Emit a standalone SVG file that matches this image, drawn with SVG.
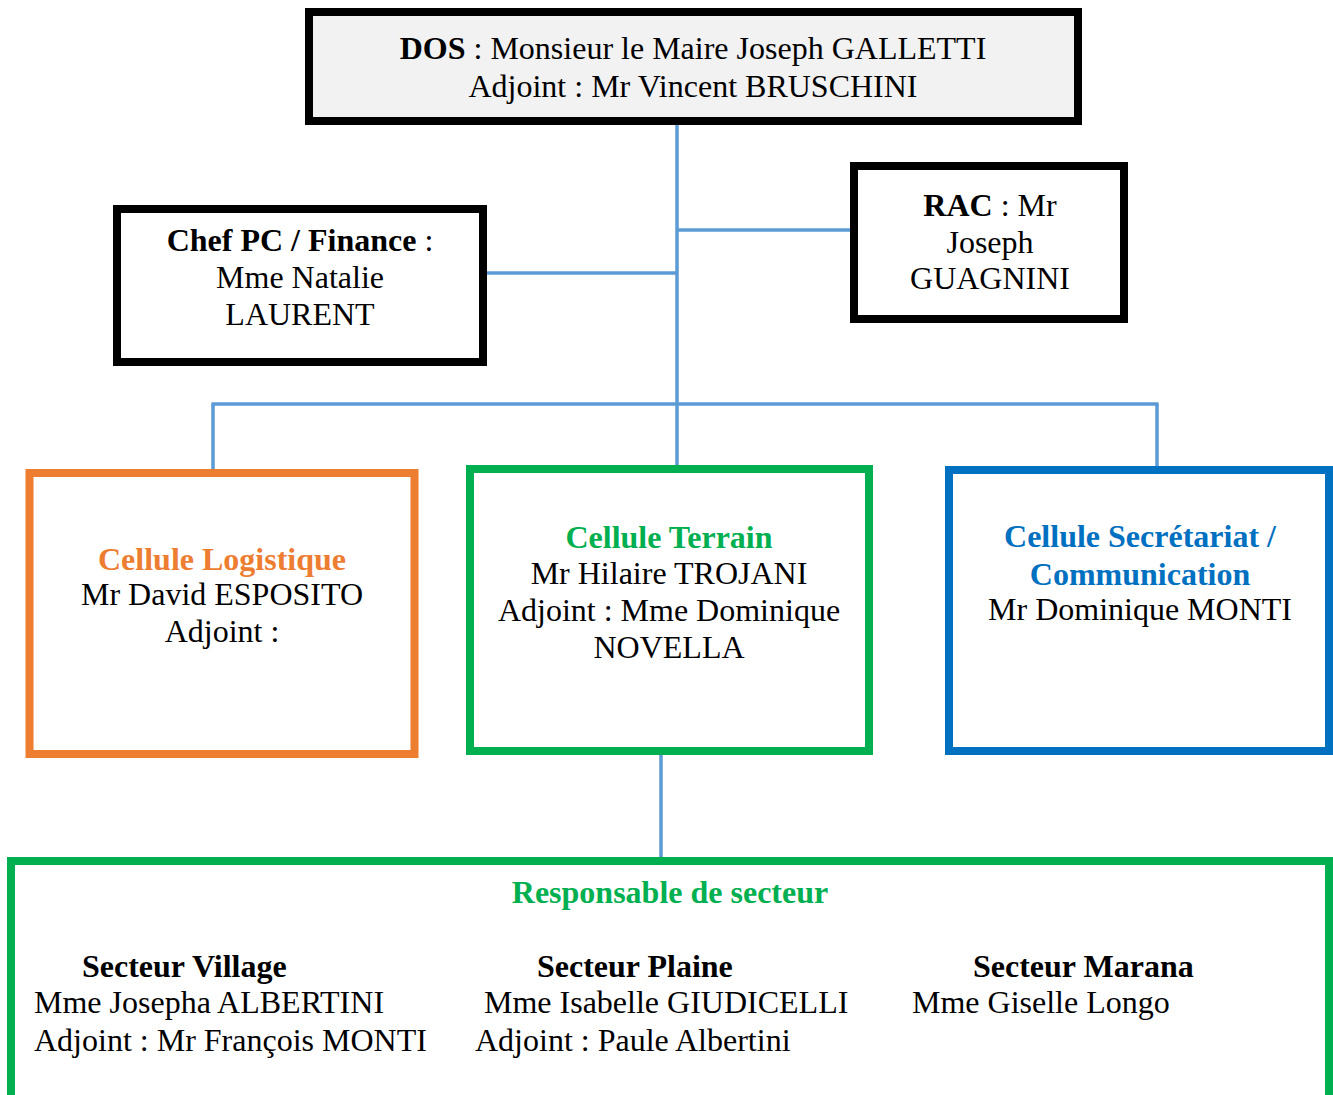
<svg xmlns="http://www.w3.org/2000/svg" width="1333" height="1095" viewBox="0 0 1333 1095">
<style>
text{font-family:"Liberation Serif","Times New Roman",serif;font-size:32px;fill:#000}
.c{text-anchor:middle}
.b{font-weight:bold}
.box{fill:#fff;stroke-width:8}
.k{stroke:#000}
.conn line{stroke:#5b9bd5;stroke-width:3.5;fill:none}
</style>
<rect width="1333" height="1095" fill="#fff"/>
<g id="connectors" class="conn">
<line x1="677" y1="121" x2="677" y2="467"/>
<line x1="483" y1="273" x2="677" y2="273"/>
<line x1="677" y1="230" x2="854" y2="230"/>
<line x1="211.5" y1="404" x2="1158.5" y2="404"/>
<line x1="213" y1="404" x2="213" y2="470"/>
<line x1="1157" y1="404" x2="1157" y2="467"/>
<line x1="661" y1="752" x2="661" y2="860"/>
</g>
<g id="node-dos">
<rect x="309" y="12" width="769" height="109" class="box k" style="fill:#f2f2f2"/>
<text x="693" y="59" class="c"><tspan class="b">DOS</tspan> : Monsieur le Maire Joseph GALLETTI</text>
<text x="693" y="97" class="c">Adjoint : Mr Vincent BRUSCHINI</text>
</g>
<g id="node-chef-pc">
<rect x="117" y="209" width="366" height="153" class="box k"/>
<text x="300" y="251" class="c"><tspan class="b">Chef PC / Finance</tspan> :</text>
<text x="300" y="288" class="c">Mme Natalie</text>
<text x="300" y="325" class="c">LAURENT</text>
</g>
<g id="node-rac">
<rect x="854" y="166" width="270" height="153" class="box k"/>
<text x="990" y="216" class="c"><tspan class="b">RAC</tspan> : Mr</text>
<text x="990" y="253" class="c">Joseph</text>
<text x="990" y="289" class="c">GUAGNINI</text>
</g>
<g id="node-logistique">
<rect x="29.5" y="473" width="385" height="281" class="box" stroke="#ed7d31"/>
<text x="222" y="570" class="c b" style="fill:#ed7d31">Cellule Logistique</text>
<text x="222" y="605" class="c">Mr David ESPOSITO</text>
<text x="222" y="642" class="c">Adjoint :</text>
</g>
<g id="node-terrain">
<rect x="470" y="469" width="399" height="282" class="box" stroke="#00b050"/>
<text x="669" y="548" class="c b" style="fill:#00b050">Cellule Terrain</text>
<text x="669" y="584" class="c">Mr Hilaire TROJANI</text>
<text x="669" y="621" class="c">Adjoint : Mme Dominique</text>
<text x="669" y="658" class="c">NOVELLA</text>
</g>
<g id="node-secretariat">
<rect x="949" y="470" width="380" height="281" class="box" stroke="#0070c0"/>
<text x="1140" y="547" class="c b" style="fill:#0070c0">Cellule Secrétariat /</text>
<text x="1140" y="585" class="c b" style="fill:#0070c0">Communication</text>
<text x="1140" y="620" class="c">Mr Dominique MONTI</text>
</g>
<g id="node-secteurs">
<rect x="11" y="861" width="1318" height="300" class="box" stroke="#00b050"/>
<text x="670" y="903" class="c b" style="fill:#00b050">Responsable de secteur</text>
<text x="82" y="977" class="b">Secteur Village</text>
<text x="34" y="1013">Mme Josepha ALBERTINI</text>
<text x="34" y="1051">Adjoint : Mr François MONTI</text>
<text x="537" y="977" class="b">Secteur Plaine</text>
<text x="484" y="1013">Mme Isabelle GIUDICELLI</text>
<text x="475" y="1051">Adjoint : Paule Albertini</text>
<text x="973" y="977" class="b">Secteur Marana</text>
<text x="912" y="1013">Mme Giselle Longo</text>
</g>
</svg>
